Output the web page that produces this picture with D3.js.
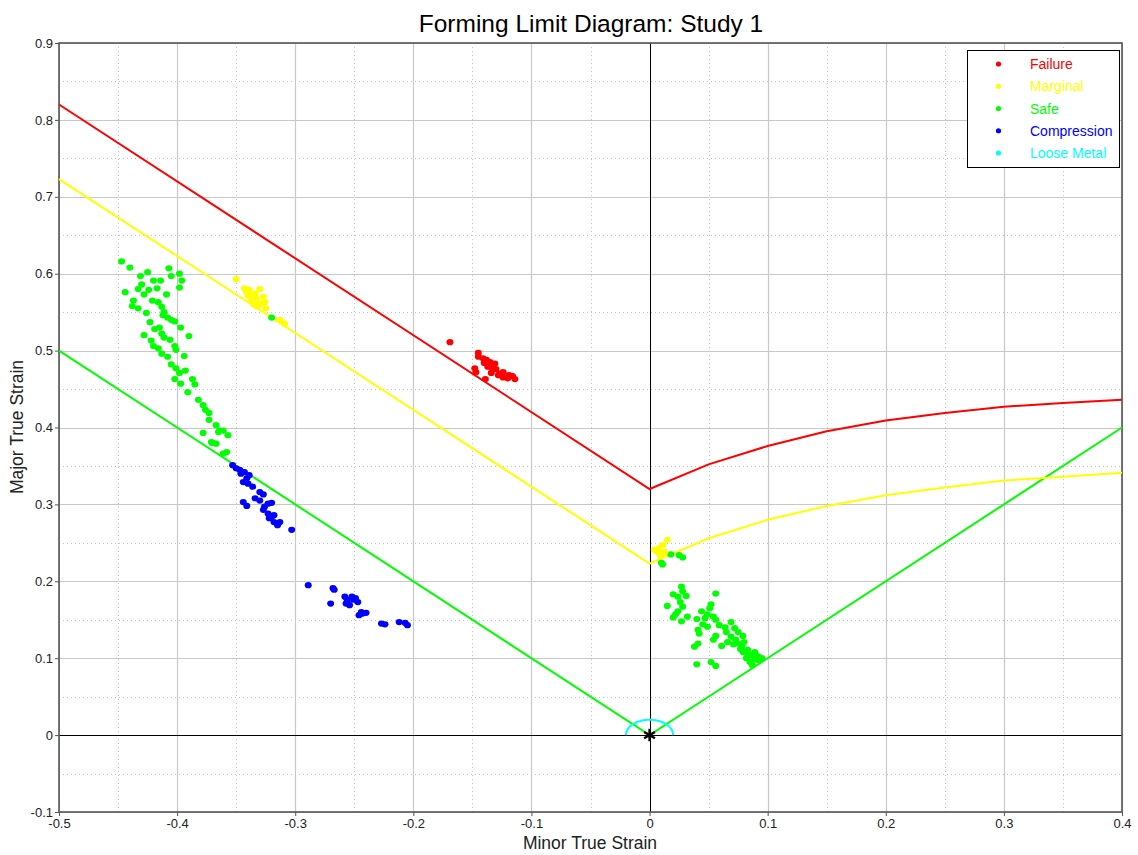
<!DOCTYPE html>
<html>
<head>
<meta charset="utf-8">
<script src="https://cdn.jsdelivr.net/npm/d3@7"></script>
<style>
  html, body { margin: 0; padding: 0; background: #fff; }
  svg { display: block; font-family: "Liberation Sans", Arial, sans-serif; }
</style>
</head>
<body>
<svg id="chart" width="1138" height="855"></svg>
<script>
// Forming limit curves: [minor strain, major strain]
const failureCurve = [[-0.5, 0.82], [0, 0.32], [0.05, 0.352], [0.1, 0.376], [0.15, 0.395],
  [0.2, 0.409], [0.25, 0.419], [0.3, 0.427], [0.35, 0.432], [0.4, 0.436]];
const marginalCurve = [[-0.5, 0.723], [0, 0.223], [0.05, 0.256], [0.1, 0.28], [0.15, 0.298],
  [0.2, 0.312], [0.25, 0.322], [0.3, 0.331], [0.35, 0.336], [0.4, 0.341]];
const safeCurve = [[-0.5, 0.5], [0, 0], [0.4, 0.4]];
const looseRadius = 0.02;

// Measured element strains
const failurePoints = [
  [-0.169, 0.511], [-0.145, 0.497], [-0.145, 0.492], [-0.141, 0.490], [-0.138, 0.488],
  [-0.135, 0.485], [-0.140, 0.484], [-0.134, 0.481], [-0.131, 0.483], [-0.137, 0.479],
  [-0.133, 0.477], [-0.130, 0.476], [-0.148, 0.477], [-0.147, 0.472], [-0.124, 0.472],
  [-0.128, 0.468], [-0.120, 0.464], [-0.116, 0.467], [-0.114, 0.463], [-0.124, 0.465],
  [-0.139, 0.463], [-0.119, 0.468], [-0.134, 0.471], [-0.127, 0.470]
];
const marginalPoints = [
  [-0.350, 0.593], [-0.343, 0.581], [-0.339, 0.579], [-0.334, 0.574], [-0.330, 0.580],
  [-0.333, 0.568], [-0.337, 0.566], [-0.326, 0.563], [-0.330, 0.561], [-0.335, 0.560],
  [-0.341, 0.576], [-0.336, 0.570], [-0.327, 0.570], [-0.332, 0.557], [-0.325, 0.555],
  [-0.313, 0.540], [-0.309, 0.535], [-0.337, 0.572], [-0.340, 0.572],
  [0.015, 0.254], [0.011, 0.247], [0.004, 0.241], [0.008, 0.243], [0.010, 0.236],
  [0.013, 0.238], [0.007, 0.238], [0.009, 0.234]
];
const safePoints = [
  [-0.447, 0.616], [-0.440, 0.608], [-0.425, 0.602], [-0.407, 0.607], [-0.398, 0.600],
  [-0.405, 0.597], [-0.431, 0.597], [-0.420, 0.591], [-0.414, 0.591], [-0.396, 0.591],
  [-0.430, 0.586], [-0.433, 0.580], [-0.424, 0.579], [-0.417, 0.581], [-0.398, 0.582],
  [-0.444, 0.576], [-0.409, 0.573], [-0.428, 0.573], [-0.421, 0.565], [-0.416, 0.563],
  [-0.437, 0.565], [-0.438, 0.558], [-0.433, 0.555], [-0.413, 0.557], [-0.411, 0.550],
  [-0.412, 0.546], [-0.426, 0.549], [-0.408, 0.543], [-0.405, 0.540], [-0.402, 0.538],
  [-0.423, 0.537], [-0.397, 0.530], [-0.419, 0.528], [-0.415, 0.530], [-0.413, 0.522],
  [-0.428, 0.520], [-0.390, 0.519], [-0.411, 0.517], [-0.406, 0.514], [-0.422, 0.513],
  [-0.420, 0.506], [-0.402, 0.506], [-0.416, 0.503], [-0.401, 0.501], [-0.413, 0.496],
  [-0.394, 0.493], [-0.408, 0.492], [-0.405, 0.482], [-0.401, 0.477], [-0.398, 0.471],
  [-0.393, 0.474], [-0.402, 0.463], [-0.387, 0.463], [-0.397, 0.457], [-0.385, 0.456],
  [-0.391, 0.446], [-0.382, 0.436], [-0.378, 0.429], [-0.376, 0.423], [-0.373, 0.419],
  [-0.373, 0.410], [-0.367, 0.403], [-0.365, 0.394], [-0.361, 0.396], [-0.357, 0.390],
  [-0.378, 0.393], [-0.371, 0.381], [-0.367, 0.379], [-0.364, 0.396], [-0.358, 0.368],
  [-0.361, 0.366], [-0.370, 0.380], [-0.320, 0.543],
  [0.018, 0.235], [0.025, 0.234], [0.028, 0.231], [0.011, 0.222], [0.010, 0.224],
  [0.027, 0.193], [0.028, 0.187], [0.020, 0.183], [0.024, 0.180], [0.031, 0.181],
  [0.026, 0.173], [0.015, 0.168], [0.028, 0.167], [0.056, 0.184], [0.024, 0.161],
  [0.022, 0.157], [0.020, 0.153], [0.032, 0.154], [0.027, 0.148], [0.040, 0.151],
  [0.044, 0.161], [0.051, 0.165], [0.052, 0.170], [0.049, 0.157], [0.047, 0.152],
  [0.054, 0.154], [0.056, 0.150], [0.045, 0.144], [0.049, 0.141], [0.041, 0.137],
  [0.042, 0.132], [0.059, 0.143], [0.064, 0.140], [0.069, 0.147], [0.065, 0.134],
  [0.056, 0.129], [0.054, 0.124], [0.061, 0.116], [0.041, 0.119], [0.038, 0.115],
  [0.072, 0.139], [0.075, 0.134], [0.069, 0.128], [0.073, 0.124], [0.079, 0.129],
  [0.080, 0.121], [0.078, 0.115], [0.083, 0.111], [0.079, 0.108], [0.086, 0.104],
  [0.089, 0.108], [0.082, 0.100], [0.085, 0.095], [0.089, 0.098], [0.092, 0.102],
  [0.087, 0.091], [0.040, 0.092], [0.052, 0.095], [0.056, 0.090], [0.075, 0.119],
  [0.066, 0.121], [0.093, 0.097], [0.090, 0.104], [0.095, 0.100], [0.083, 0.105],
  [0.077, 0.112], [0.071, 0.118]
];
const compressionPoints = [
  [-0.353, 0.351], [-0.350, 0.347], [-0.347, 0.345], [-0.346, 0.340], [-0.343, 0.342],
  [-0.339, 0.338], [-0.341, 0.334], [-0.344, 0.329], [-0.340, 0.327], [-0.336, 0.323],
  [-0.330, 0.316], [-0.327, 0.313], [-0.344, 0.303], [-0.341, 0.298], [-0.334, 0.308],
  [-0.330, 0.305], [-0.323, 0.301], [-0.320, 0.302], [-0.326, 0.297], [-0.327, 0.293],
  [-0.323, 0.288], [-0.320, 0.284], [-0.318, 0.286], [-0.322, 0.282], [-0.318, 0.277],
  [-0.313, 0.277], [-0.315, 0.273], [-0.303, 0.267],
  [-0.289, 0.195], [-0.268, 0.191], [-0.267, 0.189], [-0.270, 0.171], [-0.258, 0.180],
  [-0.256, 0.176], [-0.257, 0.171], [-0.251, 0.176], [-0.247, 0.173], [-0.254, 0.169],
  [-0.252, 0.180], [-0.249, 0.178], [-0.244, 0.160], [-0.240, 0.159], [-0.246, 0.156],
  [-0.243, 0.158], [-0.227, 0.145], [-0.224, 0.144], [-0.212, 0.147], [-0.207, 0.146],
  [-0.205, 0.143]
];

const xTicks = [-0.5, -0.4, -0.3, -0.2, -0.1, 0, 0.1, 0.2, 0.3, 0.4];
const yTicks = [-0.1, 0, 0.1, 0.2, 0.3, 0.4, 0.5, 0.6, 0.7, 0.8, 0.9];
const legendItems = ["Failure", "Marginal", "Safe", "Compression", "Loose Metal"];
const colors = {
  "Failure": "#ff0000", "Marginal": "#ffff00", "Safe": "#00ff00",
  "Compression": "#0000ff", "Loose Metal": "#00ffff"
};

const svg = d3.select("#chart");
const pLeft = 59, pTop = 43, pRight = 1122, pBottom = 812;

const x = d3.scaleLinear().domain([-0.5, 0.4]).range([pLeft, pRight]);
const y = d3.scaleLinear().domain([-0.1, 0.9]).range([pBottom, pTop]);
const fmt = v => (Math.abs(v) < 1e-9 ? "0" : String(+v.toFixed(2)));
const px = v => Math.round(v) + 0.5;

// minor grid (dotted)
const minorX = d3.range(-0.45, 0.4, 0.1);
const minorY = d3.range(-0.05, 0.9, 0.1);
const grid = svg.append("g");
grid.selectAll("line.mx").data(minorX).join("line")
  .attr("x1", d => px(x(d))).attr("x2", d => px(x(d)))
  .attr("y1", pTop).attr("y2", pBottom)
  .attr("stroke", "#c4c4c4").attr("stroke-dasharray", "1,3");
grid.selectAll("line.my").data(minorY).join("line")
  .attr("y1", d => px(y(d))).attr("y2", d => px(y(d)))
  .attr("x1", pLeft).attr("x2", pRight)
  .attr("stroke", "#c4c4c4").attr("stroke-dasharray", "1,3");
// major grid
grid.selectAll("line.gx").data(xTicks).join("line")
  .attr("x1", d => px(x(d))).attr("x2", d => px(x(d)))
  .attr("y1", pTop).attr("y2", pBottom)
  .attr("stroke", "#c8c8c8").attr("stroke-width", 1.2);
grid.selectAll("line.gy").data(yTicks).join("line")
  .attr("y1", d => px(y(d))).attr("y2", d => px(y(d)))
  .attr("x1", pLeft).attr("x2", pRight)
  .attr("stroke", "#c8c8c8").attr("stroke-width", 1.2);

// zero lines
svg.append("line").attr("x1", px(x(0))).attr("x2", px(x(0)))
  .attr("y1", pTop).attr("y2", pBottom).attr("stroke", "#000");
svg.append("line").attr("y1", px(y(0))).attr("y2", px(y(0)))
  .attr("x1", pLeft).attr("x2", pRight).attr("stroke", "#000");

// axes
const xAxis = d3.axisBottom(x).tickValues(xTicks).tickFormat(fmt).tickSize(4).tickPadding(3);
const yAxis = d3.axisLeft(y).tickValues(yTicks).tickFormat(fmt).tickSize(4).tickPadding(2);
const gx = svg.append("g").attr("transform", `translate(0,${pBottom})`).call(xAxis);
const gy = svg.append("g").attr("transform", `translate(${pLeft},0)`).call(yAxis);
[gx, gy].forEach(g => {
  g.select(".domain").remove();
  g.selectAll(".tick line").attr("stroke", "#555");
  g.selectAll(".tick text").attr("fill", "#222").style("font-size", "13px")
    .style("font-family", "'Liberation Sans', Arial, sans-serif");
});

// frame
svg.append("rect").attr("x", pLeft).attr("y", pTop)
  .attr("width", pRight - pLeft).attr("height", pBottom - pTop)
  .attr("fill", "none").attr("stroke", "#555").attr("stroke-width", 1.6);

// limit curves
const line = d3.line().x(d => x(d[0])).y(d => y(d[1]));
const curves = [[safeCurve, colors.Safe], [marginalCurve, colors.Marginal], [failureCurve, colors.Failure]];
svg.append("g").selectAll("path").data(curves).join("path")
  .attr("d", d => line(d[0])).attr("fill", "none")
  .attr("stroke", d => d[1]).attr("stroke-width", 2);

// loose metal boundary: half circle around the origin
const arcPts = d3.range(0, 181, 5).map(a => [looseRadius * Math.cos(a * Math.PI / 180), looseRadius * Math.sin(a * Math.PI / 180)]);
svg.append("path").attr("d", line(arcPts)).attr("fill", "none")
  .attr("stroke", colors["Loose Metal"]).attr("stroke-width", 2);

// points
const sets = [
  [safePoints, colors.Safe], [compressionPoints, colors.Compression],
  [marginalPoints, colors.Marginal], [failurePoints, colors.Failure]
];
sets.forEach(([pts, c]) => {
  svg.append("g").selectAll("ellipse").data(pts).join("ellipse")
    .attr("cx", d => x(d[0])).attr("cy", d => y(d[1]))
    .attr("rx", 3.5).attr("ry", 3.1).attr("fill", c);
});

// origin marker
svg.append("path")
  .attr("transform", `translate(${x(0)},${y(0)})`)
  .attr("d", d3.symbol(d3.symbolAsterisk, 110)())
  .attr("stroke", "#000").attr("stroke-width", 2.4).attr("fill", "none");

// title and axis labels
svg.append("text").attr("x", 591).attr("y", 32).attr("text-anchor", "middle")
  .style("font-size", "24.5px").attr("fill", "#000").text("Forming Limit Diagram: Study 1");
svg.append("text").attr("x", 590).attr("y", 849).attr("text-anchor", "middle")
  .style("font-size", "17.5px").attr("fill", "#222").text("Minor True Strain");
svg.append("text").attr("transform", "translate(23,427) rotate(-90)").attr("text-anchor", "middle")
  .style("font-size", "17.5px").attr("fill", "#222").text("Major True Strain");

// legend
const lg = svg.append("g");
lg.append("rect").attr("x", 967.5).attr("y", 50.5).attr("width", 152).attr("height", 117)
  .attr("fill", "#fff").attr("stroke", "#000").attr("stroke-width", 1);
const rowY = d3.scalePoint().domain(legendItems).range([64, 153]);
legendItems.forEach(name => {
  lg.append("circle").attr("cx", 998.5).attr("cy", rowY(name)).attr("r", 2.6).attr("fill", colors[name]);
  lg.append("text").attr("x", 1030).attr("y", rowY(name) + 5)
    .style("font-size", "14px").attr("fill", colors[name]).text(name);
});
</script>
</body>
</html>
